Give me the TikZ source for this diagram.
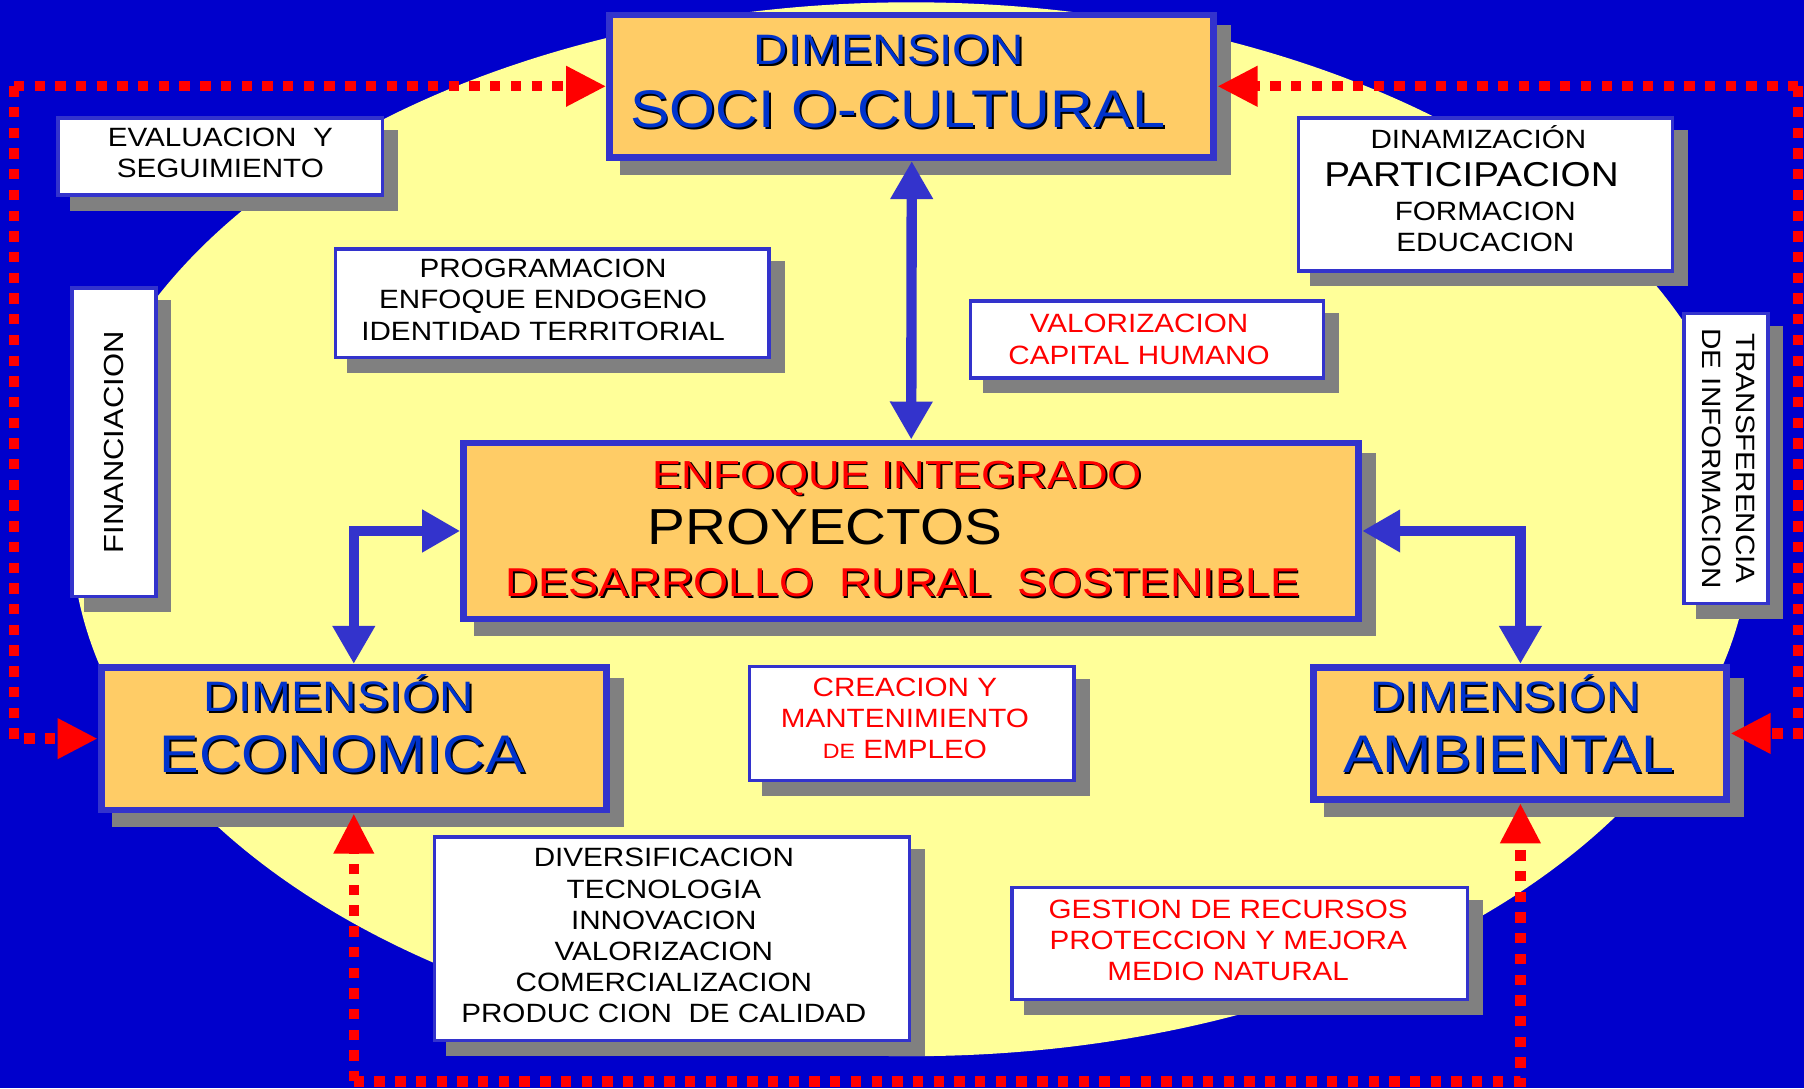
\documentclass[tikz,border=0pt]{standalone}
\usepackage{fontspec}
\setmainfont[FakeStretch=1.12]{Liberation Sans}
\usetikzlibrary{arrows.meta,shadows}

\definecolor{bgblue}{HTML}{0000CC}
\definecolor{ovalyellow}{HTML}{FFFF99}
\definecolor{boxorange}{HTML}{FFCC66}
\definecolor{boxblue}{HTML}{3333CC}
\definecolor{titleblue}{HTML}{0033CC}
\definecolor{shadowgray}{HTML}{808080}

\newcommand{\fsz}[2]{\fontsize{#1}{#2}\selectfont}
\newcommand{\titletxt}[2]{\makebox[0pt][l]{\hspace{1.5pt}\raisebox{-1.5pt}{\color{black}#2}}{\color{#1}#2}}
% invisible padding: right side and below a line
\newcommand{\padr}[1]{\makebox[#1]{}}
\newcommand{\lift}[1]{\rule[-#1]{0pt}{#1}}

\begin{document}
\begin{tikzpicture}[x=1pt,y=-1pt,
  dimbox/.style={draw=boxblue, line width=6pt, fill=boxorange, align=center, inner sep=0pt,
    drop shadow={shadow xshift=12pt, shadow yshift=-12pt, fill=shadowgray, draw=shadowgray, opacity=1}},
  infobox/.style={draw=boxblue, line width=3pt, fill=white, align=center, inner sep=0pt,
    font=\fsz{23}{27},
    drop shadow={shadow xshift=12pt, shadow yshift=-12pt, fill=shadowgray, draw=shadowgray, opacity=1}},
  bluearrow/.style={draw=boxblue, line width=9pt,
    arrows={Triangle[length=33pt,width=35pt]-Triangle[length=33pt,width=35pt]}},
  reddot/.style={draw=red, line width=9pt, dash pattern=on 9pt off 9pt,
    -{Triangle[length=35pt,width=33pt]}}]

% background and oval
\fill[bgblue] (0,0) rectangle (1568,946);
\useasboundingbox (0,0) rectangle (1568,946);
\fill[ovalyellow] (792,460) ellipse [x radius=730pt, y radius=458pt];

% the three dimensions and the centre
\node[dimbox, minimum width=525pt, minimum height=124pt, font=\fsz{46}{55}] (socio) at (792.5,75)
  {{\fsz{37}{55}\titletxt{titleblue}{DIMENSION}\padr{40pt}}\\
   \titletxt{titleblue}{SOCI O-CULTURAL}\padr{24pt}\lift{9pt}};
\node[dimbox, minimum width=778pt, minimum height=153pt, font=\fsz{44}{47}] (enfoque) at (792,461.5)
  {{\fsz{34}{47}\titletxt{red}{ENFOQUE INTEGRADO}\padr{24pt}}\\[2pt]
   PROYECTOS\padr{150pt}\\[-2pt]
   {\fsz{35}{47}\titletxt{red}{DESARROLLO~~RURAL~~SOSTENIBLE}\padr{14pt}}\lift{4pt}};
\node[dimbox, minimum width=439pt, minimum height=124pt, font=\fsz{46}{53}] (economica) at (307.5,642)
  {{\fsz{37}{53}\titletxt{titleblue}{DIMENSIÓN}\padr{26pt}}\\
   \titletxt{titleblue}{ECONOMICA}\padr{20pt}\lift{26pt}};
\node[dimbox, minimum width=359pt, minimum height=115pt, font=\fsz{46}{53}] (ambiental) at (1321.5,637.5)
  {{\fsz{37}{53}\titletxt{titleblue}{DIMENSIÓN}\padr{26pt}}\\
   \titletxt{titleblue}{AMBIENTAL}\padr{20pt}\lift{17pt}};

% white boxes
\node[infobox, minimum width=282pt, minimum height=67pt] (evaluacion) at (191.5,136)
  {EVALUACION~~Y\\SEGUIMIENTO\lift{6pt}};
\node[infobox, minimum width=377pt, minimum height=94pt] (programacion) at (480,263.5)
  {PROGRAMACION\padr{16pt}\\ENFOQUE ENDOGENO\padr{16pt}\\IDENTIDAD TERRITORIAL\padr{16pt}\lift{6pt}};
\node[infobox, minimum width=73pt, minimum height=268pt, font=\fsz{24}{27}] (financiacion) at (99,384.5)
  {\rotatebox{90}{FINANCIACION}};
\node[infobox, minimum width=325pt, minimum height=133pt] (dinamizacion) at (1291,169)
  {DINAMIZACIÓN\padr{12pt}\\[6pt]{\fsz{30}{27}PARTICIPACION}\padr{24pt}\\[3pt]FORMACION\\EDUCACION\lift{10pt}};
\node[infobox, text=red, minimum width=307pt, minimum height=67pt] (valorizacion) at (997,295)
  {VALORIZACION\padr{14pt}\\CAPITAL HUMANO\padr{14pt}};
\node[infobox, minimum width=73pt, minimum height=252pt] (transferencia) at (1500,398.5)
  {\rotatebox{-90}{\begin{tabular}{@{}c@{}}TRANSFERENCIA\\[2pt]DE INFORMACION\end{tabular}}};
\node[infobox, text=red, minimum width=282pt, minimum height=99pt] (creacion) at (792.5,629)
  {CREACION Y\padr{12pt}\\MANTENIMIENTO\padr{12pt}\\{\fsz{18}{27}DE} EMPLEO\padr{12pt}\lift{10pt}};
\node[infobox, minimum width=413pt, minimum height=177pt] (diversificacion) at (584,816)
  {DIVERSIFICACION\padr{14pt}\\TECNOLOGIA\padr{14pt}\\INNOVACION\padr{14pt}\\VALORIZACION\padr{14pt}\\
   COMERCIALIZACION\padr{14pt}\\PRODUC CION~~DE CALIDAD\padr{14pt}\lift{6pt}};
\node[infobox, text=red, minimum width=396pt, minimum height=97pt] (gestion) at (1077.5,820)
  {GESTION DE RECURSOS\padr{20pt}\\PROTECCION Y MEJORA\padr{20pt}\\MEDIO NATURAL\padr{20pt}\lift{6pt}};

% blue links to the centre
\draw[bluearrow] (socio.south) -- (enfoque.north);
\draw[bluearrow] (enfoque.west) -| (economica.north);
\draw[bluearrow] (enfoque.east) -| (ambiental.north);

% red dotted feedback loop
\coordinate (topleft) at (12,75);
\coordinate (topright) at (1563,75);
\coordinate (bottomleft) at (307.5,940);
\foreach \src/\dest in {topleft/socio.west, topright/socio.east, bottomleft/economica.south} {
  \draw[reddot] (\src) -- (\dest);
}
\draw[reddot] (topleft) |- (economica.west);
\draw[reddot] (topright) |- (ambiental.east);
\draw[reddot] (bottomleft) -| (ambiental.south);

\end{tikzpicture}
\end{document}
